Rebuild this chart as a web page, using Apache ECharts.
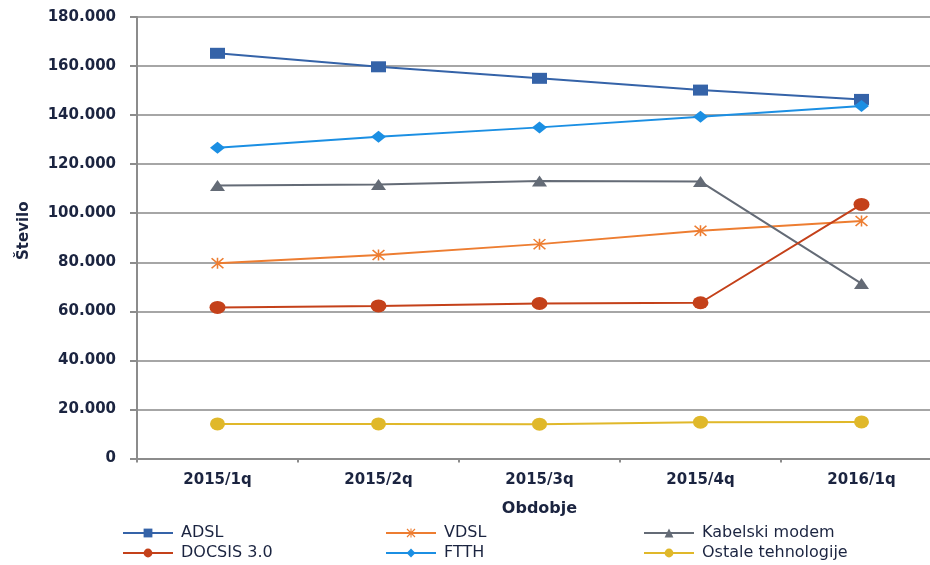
<!DOCTYPE html>
<html>
<head>
<meta charset="utf-8">
<script src="https://cdn.jsdelivr.net/npm/echarts@6/dist/echarts.min.js"></script>
<style>
  html, body { margin: 0; padding: 0; background: #fff; }
  #chart { width: 930px; height: 565px; }
</style>
</head>
<body>
<div id="chart"></div>
<script>
// Quarterly periods
const categories = ['2015/1q', '2015/2q', '2015/3q', '2015/4q', '2016/1q'];

// Number of connections per access technology
const adsl      = [165200, 159700, 155000, 150200, 146400];
const vdsl      = [79600, 83000, 87400, 92900, 96800];
const kabelski  = [111300, 111700, 113100, 112900, 71300];
const docsis    = [61600, 62200, 63200, 63500, 103600];
const ftth      = [126700, 131200, 135000, 139300, 143700];
const ostale    = [14100, 14100, 14000, 14800, 14900];

const seriesNames = ['ADSL', 'VDSL', 'Kabelski modem', 'DOCSIS 3.0', 'FTTH', 'Ostale tehnologije'];

// Y axis range
const yMin = 0;
const yMax = 180000;
const yStep = 20000;

const textColor = '#1b2440';
const font = 'DejaVu Sans';

// asterisk marker built from three filled bars
const starPath = 'path://M4.4,0 L5.6,0 L5.6,10 L4.4,10 Z M0,0.9 L0.9,0 L10,9.1 L9.1,10 Z M9.1,0 L10,0.9 L0.9,10 L0,9.1 Z';

function fmt(v) {
  return String(v).replace(/\B(?=(\d{3})+(?!\d))/g, '.');
}

function lineSeries(name, data, color, symbol, size) {
  return {
    name: name,
    type: 'line',
    data: data,
    symbol: symbol,
    symbolSize: size,
    showAllSymbol: true,
    lineStyle: { color: color, width: 2 },
    itemStyle: { color: color, borderWidth: 0 },
    emphasis: { disabled: true },
    z: 3
  };
}

const chart = echarts.init(document.getElementById('chart'), null, { renderer: 'canvas' });

const legendBase = {
  orient: 'vertical',
  top: 525,
  height: 60,
  padding: 0,
  itemWidth: 50,
  itemHeight: 11,
  itemGap: 4,
  textStyle: { color: textColor, fontFamily: font, fontSize: 16, lineHeight: 16, padding: [0, 0, 0, 3] },
  selectedMode: false
};

chart.setOption({
  animation: false,
  backgroundColor: '#ffffff',
  grid: { left: 137, top: 17, width: 805, height: 441.5, containLabel: false, outerBoundsMode: 'none' },
  legend: [
    Object.assign({}, legendBase, { left: 122, data: [seriesNames[0], seriesNames[3]] }),
    Object.assign({}, legendBase, { left: 385, data: [seriesNames[1], seriesNames[4]] }),
    Object.assign({}, legendBase, { left: 643, data: [seriesNames[2], seriesNames[5]] })
  ],
  xAxis: {
    type: 'category',
    data: categories,
    boundaryGap: true,
    name: 'Obdobje',
    nameLocation: 'middle',
    nameGap: 42,
    nameTextStyle: { color: textColor, fontFamily: font, fontSize: 16, fontWeight: 'bold' },
    axisLine: { lineStyle: { color: '#8c8c8c', width: 2 } },
    axisTick: { show: true, length: 4, lineStyle: { color: '#8c8c8c', width: 2 } },
    axisLabel: { color: textColor, fontFamily: font, fontSize: 15, fontWeight: 'bold', margin: 14 },
    splitLine: { show: false }
  },
  yAxis: {
    type: 'value',
    min: yMin,
    max: yMax,
    interval: yStep,
    name: 'Število',
    nameLocation: 'middle',
    nameGap: 105,
    nameRotate: 90,
    nameMoveOverlap: false,
    nameTextStyle: { color: textColor, fontFamily: font, fontSize: 15, fontWeight: 'bold', padding: [0, 0, 0, 14] },
    axisLine: { show: true, lineStyle: { color: '#8c8c8c', width: 2 } },
    axisTick: { show: true, length: 7, lineStyle: { color: '#8c8c8c', width: 2 } },
    axisLabel: { color: textColor, fontFamily: font, fontSize: 15, fontWeight: 'bold', margin: 21, formatter: fmt },
    splitLine: { show: true, lineStyle: { color: '#a6a6a6', width: 2 } }
  },
  series: [
    lineSeries(seriesNames[0], adsl, '#3563a8', 'rect', [15, 11]),
    lineSeries(seriesNames[1], vdsl, '#ed7d31', starPath, [13, 11]),
    lineSeries(seriesNames[2], kabelski, '#646b76', 'triangle', [15, 11]),
    lineSeries(seriesNames[3], docsis, '#c4411a', 'circle', [16, 13]),
    lineSeries(seriesNames[4], ftth, '#1b8fe3', 'diamond', [15, 12]),
    lineSeries(seriesNames[5], ostale, '#e0b82a', 'circle', [15, 13])
  ]
});
</script>
</body>
</html>
